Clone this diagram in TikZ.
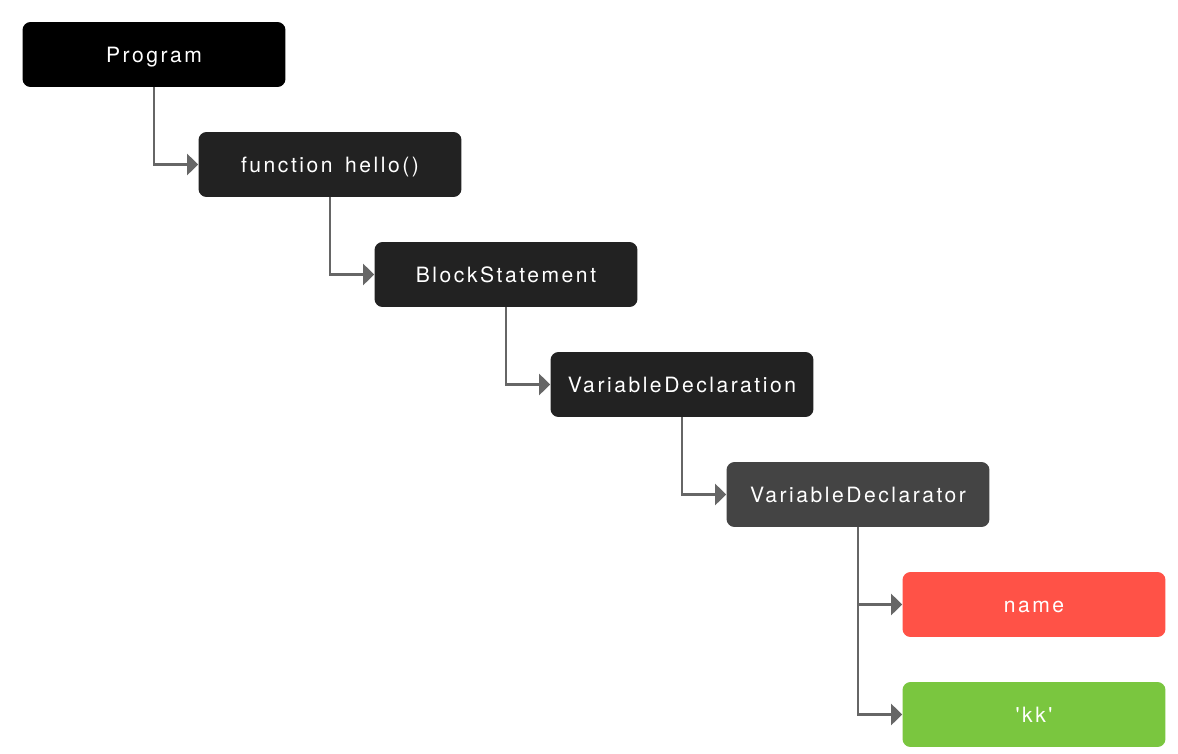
\documentclass[tikz,border=0pt]{standalone}
\usepackage{fontspec}
\setmainfont{TeX Gyre Heros}[LetterSpace=12, WordSpace=1.5, Ligatures=TeXOff]
\usetikzlibrary{arrows.meta}

\definecolor{astblack}{HTML}{000000}
\definecolor{astdark}{HTML}{222222}
\definecolor{astgray}{HTML}{444444}
\definecolor{astred}{HTML}{FF5247}
\definecolor{astgreen}{HTML}{7AC63F}
\definecolor{astline}{HTML}{666666}

\tikzset{
	astnode/.style = {rectangle, rounded corners=0.16cm, minimum width=5.26cm,
		minimum height=1.3cm, text=white, font=\fontsize{12}{14}\selectfont,
		inner sep=0pt, text height=8.6pt, text depth=0pt},
	astedge/.style = {draw=astline, line width=0.045cm,
		-{Triangle[length=0.22cm, width=0.42cm]}, astline}
}

\begin{document}
\begin{tikzpicture}[x=0.02cm, y=-0.02cm]

	\useasboundingbox[fill=white] (0,0) rectangle (1178,754);

	% the chain down the tree
	\node[astnode, fill=astblack] (prog) at (154, 54.5) {Program};
	\node[astnode, fill=astdark] (func) at (330, 164.5) {function hello()};
	\node[astnode, fill=astdark] (block) at (506, 274.5) {BlockStatement};
	\node[astnode, fill=astdark] (vdecl) at (682, 384.5) {VariableDeclaration};
	\node[astnode, fill=astgray] (vdtor) at (858, 494.5) {VariableDeclarator};

	% the two leaves
	\node[astnode, fill=astred] (name) at (1034, 604.5) {name};
	\node[astnode, fill=astgreen] (value) at (1034, 714.5) {'kk'};

	\draw[astedge] (prog.south) |- (func.west);
	\draw[astedge] (func.south) |- (block.west);
	\draw[astedge] (block.south) |- (vdecl.west);
	\draw[astedge] (vdecl.south) |- (vdtor.west);

	\draw[astedge] (vdtor.south) |- (name.west);
	\draw[astedge] (vdtor.south) |- (value.west);

\end{tikzpicture}
\end{document}
